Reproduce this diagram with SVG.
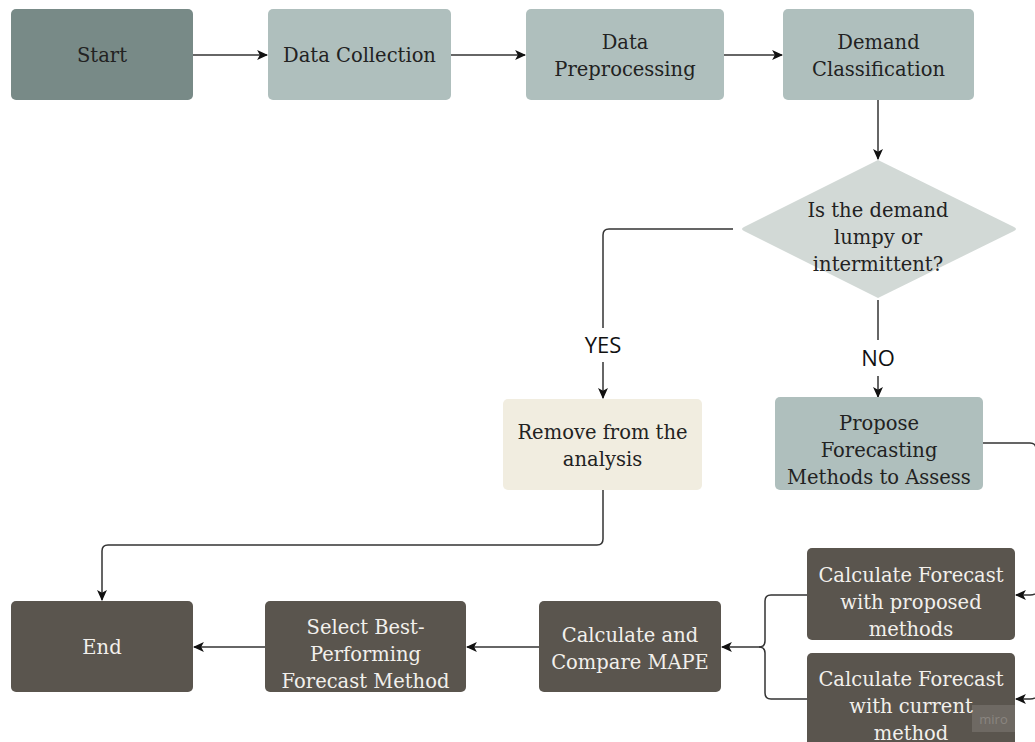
<svg xmlns="http://www.w3.org/2000/svg" width="1035" height="742" viewBox="0 0 1035 742">
<defs>
<marker id="ah" viewBox="0 0 10 10" refX="9" refY="5" markerWidth="11" markerHeight="11" markerUnits="userSpaceOnUse" orient="auto">
<path d="M0,0.5 L10,5 L0,9.5 L2.5,5 Z" fill="#111"/>
</marker>
<style>
.n{font-family:"DejaVu Serif","Liberation Serif",serif;font-size:19.5px;text-anchor:middle}
.d{fill:#222}
.w{fill:#f2f0ec}
.c{fill:none;stroke:#333;stroke-width:1.5}
.l{font-family:"Open Sans","Noto Sans",sans-serif;font-size:22px;fill:#111;text-anchor:middle}
</style>
</defs>
<rect width="1035" height="742" fill="#fff"/>
<g id="connectors">
<path class="c" d="M193,55 H267" marker-end="url(#ah)"/>
<path class="c" d="M451,55 H525" marker-end="url(#ah)"/>
<path class="c" d="M724,55 H782" marker-end="url(#ah)"/>
<path class="c" d="M878,100 V159" marker-end="url(#ah)"/>
<path class="c" d="M733,229 H609 Q603,229 603,235 V328"/>
<path class="c" d="M603,362 V398" marker-end="url(#ah)"/>
<path class="c" d="M878,300 V340"/>
<path class="c" d="M878,376 V397" marker-end="url(#ah)"/>
<path class="c" d="M983,443 H1030 Q1036,443 1036,449 V740"/>
<path class="c" d="M1040,590 Q1036,595 1030,595 H1016" marker-end="url(#ah)"/>
<path class="c" d="M1040,694 Q1036,699 1030,699 H1016" marker-end="url(#ah)"/>
<path class="c" d="M603,490 V539 Q603,545 597,545 H108 Q102,545 102,551 V600" marker-end="url(#ah)"/>
<path class="c" d="M807,595 H771 Q765,595 765,601 V641 Q765,647 759,647 H722" marker-end="url(#ah)"/>
<path class="c" d="M807,699 H771 Q765,699 765,693 V653 Q765,647 759,647"/>
<path class="c" d="M539,647 H467" marker-end="url(#ah)"/>
<path class="c" d="M265,647 H194" marker-end="url(#ah)"/>
<text class="l" x="603" y="353">YES</text>
<text class="l" x="878" y="366">NO</text>
</g>
<g id="start">
<rect x="11" y="9" width="182" height="91" rx="5" fill="#788a87"/>
<text class="n d" x="102" y="62">Start</text>
</g>
<g id="data-collection">
<rect x="268" y="9" width="183" height="91" rx="5" fill="#afbfbd"/>
<text class="n d" x="359.5" y="62">Data Collection</text>
</g>
<g id="data-preprocessing">
<rect x="526" y="9" width="198" height="91" rx="5" fill="#afbfbd"/>
<text class="n d" x="625" y="49">Data</text>
<text class="n d" x="625" y="76">Preprocessing</text>
</g>
<g id="demand-classification">
<rect x="783" y="9" width="191" height="91" rx="5" fill="#afbfbd"/>
<text class="n d" x="878.5" y="49">Demand</text>
<text class="n d" x="878.5" y="76">Classification</text>
</g>
<g id="decision">
<path d="M878,160 L1014,227 Q1018,229 1014,231 L878,298 L744,231 Q740,229 744,227 Z" fill="#d2d9d6"/>
<text class="n d" x="878" y="217">Is the demand</text>
<text class="n d" x="878" y="244">lumpy or</text>
<text class="n d" x="878" y="271">intermittent?</text>
</g>
<g id="remove">
<rect x="503" y="399" width="199" height="91" rx="5" fill="#f1ede0"/>
<text class="n d" x="602.5" y="439">Remove from the</text>
<text class="n d" x="602.5" y="466">analysis</text>
</g>
<g id="propose">
<rect x="775" y="397" width="208" height="93" rx="5" fill="#afbfbd"/>
<text class="n d" x="879" y="430">Propose</text>
<text class="n d" x="879" y="457">Forecasting</text>
<text class="n d" x="879" y="484">Methods to Assess</text>
</g>
<g id="calc-proposed">
<rect x="807" y="548" width="208" height="92" rx="5" fill="#5a554e"/>
<text class="n w" x="911" y="582">Calculate Forecast</text>
<text class="n w" x="911" y="609">with proposed</text>
<text class="n w" x="911" y="636">methods</text>
</g>
<g id="calc-current">
<rect x="807" y="653" width="208" height="100" rx="5" fill="#5a554e"/>
<text class="n w" x="911" y="686">Calculate Forecast</text>
<text class="n w" x="911" y="713">with current</text>
<text class="n w" x="911" y="740">method</text>
</g>
<g id="calc-compare">
<rect x="539" y="601" width="182" height="91" rx="5" fill="#5a554e"/>
<text class="n w" x="630" y="642">Calculate and</text>
<text class="n w" x="630" y="669">Compare MAPE</text>
</g>
<g id="select">
<rect x="265" y="601" width="201" height="91" rx="5" fill="#5a554e"/>
<text class="n w" x="365.5" y="634">Select Best-</text>
<text class="n w" x="365.5" y="661">Performing</text>
<text class="n w" x="365.5" y="688">Forecast Method</text>
</g>
<g id="end">
<rect x="11" y="601" width="182" height="91" rx="5" fill="#5a554e"/>
<text class="n w" x="102" y="654">End</text>
</g>
<g id="watermark">
<rect x="972" y="705" width="43" height="27" fill="#ffffff" fill-opacity="0.12"/>
<text x="993.5" y="724" font-family="Open Sans,sans-serif" font-size="13" fill="#8a8580" text-anchor="middle">miro</text>
</g>
</svg>
